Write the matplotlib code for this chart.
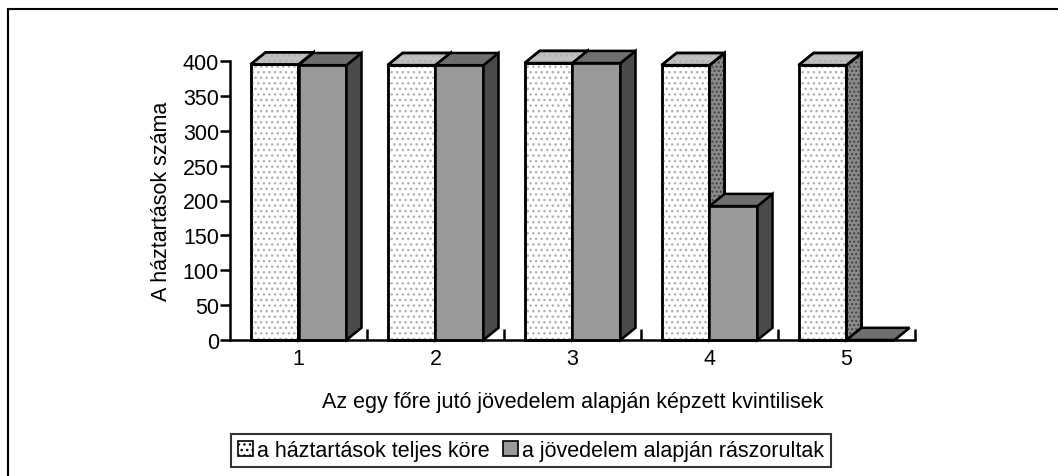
import matplotlib
matplotlib.use("Agg")
import matplotlib.pyplot as plt
from matplotlib.patches import Polygon, Patch
from matplotlib.lines import Line2D
import numpy as np

plt.rcParams['font.family'] = ['Liberation Sans', 'DejaVu Sans']
plt.rcParams['hatch.linewidth'] = 1.0

categories = ['1', '2', '3', '4', '5']
osszes = [395, 394, 397, 394, 394]          # a háztartások teljes köre
raszorultak = [394, 394, 397, 192, 0]       # a jövedelem alapján rászorultak
series_names = ['a háztartások teljes köre', 'a jövedelem alapján rászorultak']
yticks = [0, 50, 100, 150, 200, 250, 300, 350, 400]

FS = 15.5
fig = plt.figure(figsize=(10.58, 4.77), dpi=100)
ax = fig.add_axes([230/1058, 1-341/477, (915-230)/1058, (341-62)/477])

x = np.arange(1, len(categories)+1)
w = 0.35
dx = 0.11     # depth in data units (x)
dy = 17.5     # depth in data units (y)
lw = 1.8

def box(xc, h, front, top, side, hatch_front=None, hatch_top=None, hatch_side=None, hcol='#b0b0b0', hcol_side='#404040'):
    bars = ax.bar([xc], [h], width=w, color=front, edgecolor='black', linewidth=lw, zorder=3, clip_on=False)
    b = bars[0]
    x0, x1 = b.get_x(), b.get_x() + b.get_width()
    if hatch_front:
        ax.bar([xc], [h], width=w, color='none', edgecolor=hcol, linewidth=0, hatch=hatch_front, zorder=3, clip_on=False)
        ax.bar([xc], [h], width=w, color='none', edgecolor='black', linewidth=lw, zorder=3, clip_on=False)
    topp = [(x0, h), (x0+dx, h+dy), (x1+dx, h+dy), (x1, h)]
    sidep = [(x1, 0), (x1+dx, dy), (x1+dx, h+dy), (x1, h)]
    for pts, col, ht, hc in [(sidep, side, hatch_side, hcol_side), (topp, top, hatch_top, hcol)]:
        p = Polygon(pts, closed=True, facecolor=col, edgecolor='black', linewidth=lw, zorder=3, clip_on=False, joinstyle='miter')
        ax.add_patch(p)
        if ht:
            ph = Polygon(pts, closed=True, facecolor='none', edgecolor=hc, linewidth=0, hatch=ht, zorder=3, clip_on=False)
            ax.add_patch(ph)
            ax.add_patch(Polygon(pts, closed=True, facecolor='none', edgecolor='black', linewidth=lw, zorder=3, clip_on=False, joinstyle='miter'))

for i in range(len(categories)):
    box(x[i] - w/2, osszes[i], 'white', '#c0c0c0', '#8a8a8a',
        hatch_front='...', hatch_top='...', hatch_side='....')
    box(x[i] + w/2, raszorultak[i], '#999999', '#6e6e6e', '#4a4a4a')

ax.set_xlim(0.5, len(categories)+0.5)
ax.set_ylim(0, 400)
ax.set_yticks(yticks)
ax.set_xticks(x)
ax.set_xticklabels(categories)
ax.set_xticks(np.arange(1.5, len(categories)+1, 1), minor=True)
ax.tick_params(axis='x', which='major', length=0, pad=6, labelsize=FS)
ax.tick_params(axis='x', which='minor', length=8, width=lw, direction='in')
ax.tick_params(axis='y', length=7, width=lw, direction='out', labelsize=FS, pad=1)
for s in ['top', 'right']:
    ax.spines[s].set_visible(False)
for s in ['left', 'bottom']:
    ax.spines[s].set_linewidth(lw)
    ax.spines[s].set_zorder(4)
ax.patch.set_alpha(0)

ax.set_ylabel('A háztartások száma', fontsize=FS, labelpad=8)
fig.text(573/1058, 1-403/477, 'Az egy főre jutó jövedelem alapján képzett kvintilisek',
         ha='center', va='center', fontsize=FS)

handles = [Patch(facecolor='white', edgecolor='black', hatch='...', linewidth=1.2),
           Patch(facecolor='#999999', edgecolor='black', linewidth=1.2)]
leg = fig.legend(handles, series_names, loc='center', bbox_to_anchor=(531/1058, 1-451.5/477),
                 ncol=2, fontsize=FS, frameon=True, fancybox=False, handlelength=0.7,
                 handleheight=0.7, handletextpad=0.2, columnspacing=0.6, borderpad=0.3)
leg.get_frame().set_edgecolor('black')
leg.get_frame().set_linewidth(1.5)

fig.add_artist(Line2D([8/1058, 1.0], [1-10/477, 1-10/477], color='black', linewidth=1.5, transform=fig.transFigure))
fig.add_artist(Line2D([8/1058, 8/1058], [1-10/477, 0.0], color='black', linewidth=1.5, transform=fig.transFigure))

fig.savefig('out.png', dpi=100)
